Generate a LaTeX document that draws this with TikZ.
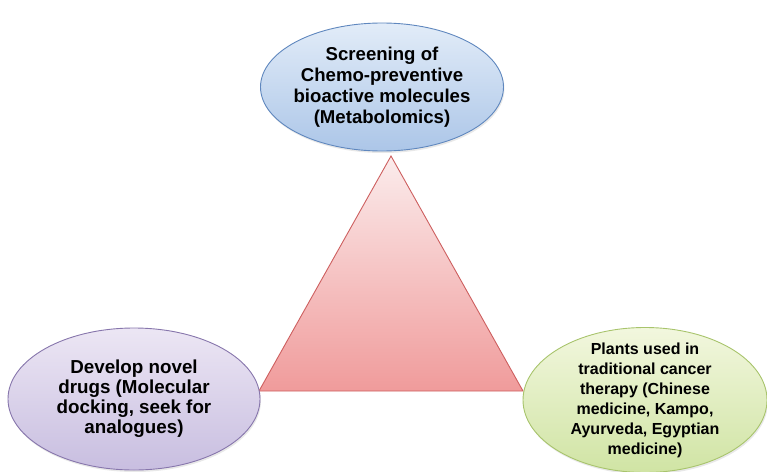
\documentclass[tikz,border=0pt]{standalone}
\usepackage{fontspec}
\setmainfont{Liberation Sans}
\usetikzlibrary{shapes.geometric,shadows}
\definecolor{blueedge}{RGB}{95,135,190}
\definecolor{bluetop}{RGB}{226,236,248}
\definecolor{bluebot}{RGB}{172,198,232}
\definecolor{lilacedge}{RGB}{135,118,172}
\definecolor{lilactop}{RGB}{236,230,244}
\definecolor{lilacbot}{RGB}{200,190,224}
\definecolor{greenedge}{RGB}{168,196,108}
\definecolor{greentop}{RGB}{242,247,222}
\definecolor{greenbot}{RGB}{208,228,164}
\definecolor{rededge}{RGB}{205,95,95}
\definecolor{redtop}{RGB}{251,236,236}
\definecolor{redbot}{RGB}{240,155,155}
\begin{document}
\begin{tikzpicture}[x=1pt, y=-1pt, every node/.style={align=center},
  bubble/.style={ellipse, line width=0.9pt, inner xsep=-12pt, inner ysep=-10pt, text=black,
    drop shadow={opacity=0.18, shadow xshift=1pt, shadow yshift=-2pt}}]
\useasboundingbox (0,0) rectangle (767,471);

% pyramid in the middle
\coordinate (apex) at (391,156);
\coordinate (baseL) at (259,391);
\coordinate (baseR) at (523,391);
\draw[rededge, line width=0.9pt, top color=redtop, bottom color=redbot] (apex) -- (baseL) -- (baseR) -- cycle;

\node[bubble, draw=blueedge, top color=bluetop, bottom color=bluebot, minimum width=243, minimum height=128, font=\bfseries\fontsize{18.6}{21}\selectfont] at (382,87) (screening) {Screening of\\Chemo-preventive\\bioactive molecules\\(Metabolomics)};
\node[bubble, draw=lilacedge, top color=lilactop, bottom color=lilacbot, minimum width=252, minimum height=142, font=\bfseries\fontsize{18.8}{20}\selectfont] at (134,399) (drugs) {Develop novel\\drugs (Molecular\\docking, seek for\\analogues)};
\node[bubble, draw=greenedge, top color=greentop, bottom color=greenbot, minimum width=244, minimum height=145, font=\bfseries\fontsize{16}{20}\selectfont] at (645,400) (plants) {Plants used in\\traditional cancer\\therapy (Chinese\\medicine, Kampo,\\Ayurveda, Egyptian\\medicine)};
\end{tikzpicture}
\end{document}
